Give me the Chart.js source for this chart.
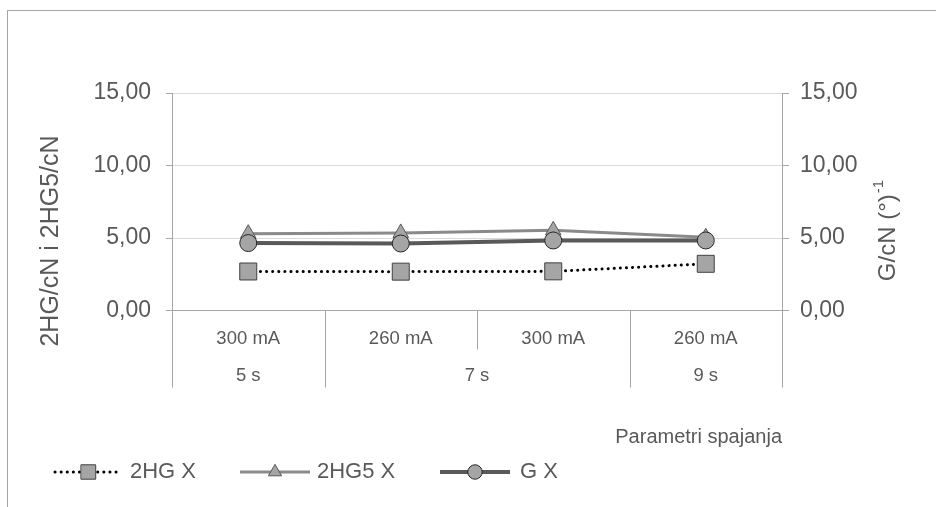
<!DOCTYPE html>
<html>
<head>
<meta charset="utf-8">
<script src="https://cdn.jsdelivr.net/npm/chart.js@4"></script>
<style>
  html, body { margin: 0; padding: 0; background: #fff; }
  #wrap { position: relative; width: 936px; height: 507px; overflow: hidden; }
  #frame { position: absolute; left: 7px; top: 10px; width: 940px; height: 510px;
           border-left: 1px solid #a6a6a6; border-top: 1px solid #a6a6a6; pointer-events: none; }
  canvas { position: absolute; left: 0; top: 0; }
</style>
</head>
<body>
<div id="wrap">
  <canvas id="chart" width="936" height="507"></canvas>
  <div id="frame"></div>
</div>
<script>
// categories (two levels)
const currents = ["300 mA", "260 mA", "300 mA", "260 mA"];
const times = ["5 s", "7 s", "7 s", "9 s"];

// series values
const hg2 = [2.69, 2.68, 2.70, 3.22];
const hg25 = [5.30, 5.35, 5.53, 5.05];
const gx = [4.65, 4.62, 4.83, 4.83];

// axis ticks
const yTicks = [0, 5, 10, 15];

const FONT = "'Liberation Sans', Arial, sans-serif";
const TXT = "#595959";
const AXIS = "#a6a6a6";
const GRID = "#d9d9d9";

const fmt = v => v.toFixed(2).replace(".", ",");

// legend layout: line start/end and text x
const legendItems = [
  { ds: 0, x0: 55, x1: 122, tx: 130 },
  { ds: 1, x0: 240, x1: 310, tx: 317 },
  { ds: 2, x0: 440, x1: 510, tx: 520 },
];

const extras = {
  id: "extras",
  afterDraw(chart) {
    const { ctx, chartArea: a, scales: { x } } = chart;
    ctx.save();

    // category separators
    const step = x.getPixelForValue(1) - x.getPixelForValue(0);
    ctx.strokeStyle = AXIS;
    ctx.lineWidth = 1;
    const vline = (px, len) => {
      const xx = Math.round(px) + 0.5;
      ctx.beginPath();
      ctx.moveTo(xx, a.bottom);
      ctx.lineTo(xx, a.bottom + len);
      ctx.stroke();
    };
    vline(a.left, 77);
    for (let i = 1; i < times.length; i++) {
      const px = x.getPixelForValue(i) - step / 2;
      vline(px, times[i] === times[i - 1] ? 39 : 77);
    }
    vline(a.right, 77);

    // second level labels (grouped)
    ctx.fillStyle = TXT;
    ctx.font = "18.5px " + FONT;
    ctx.textAlign = "center";
    ctx.textBaseline = "middle";
    let start = 0;
    for (let i = 1; i <= times.length; i++) {
      if (i === times.length || times[i] !== times[start]) {
        const cx = (x.getPixelForValue(start) + x.getPixelForValue(i - 1)) / 2;
        ctx.fillText(times[start], cx, a.bottom + 65);
        start = i;
      }
    }

    // axis titles
    ctx.font = "25px " + FONT;
    ctx.save();
    ctx.translate(51, 241);
    ctx.rotate(-Math.PI / 2);
    ctx.fillText("2HG/cN i 2HG5/cN", 0, 0);
    ctx.restore();

    ctx.save();
    ctx.translate(888, 231);
    ctx.rotate(-Math.PI / 2);
    ctx.font = "24px " + FONT;
    const main = "G/cN (°)";
    const w = ctx.measureText(main).width;
    ctx.font = "15px " + FONT;
    const sup = "-1";
    const ws = ctx.measureText(sup).width;
    const sx = -(w + ws) / 2;
    ctx.textAlign = "left";
    ctx.font = "24px " + FONT;
    ctx.fillText(main, sx, 0);
    ctx.font = "15px " + FONT;
    ctx.fillText(sup, sx + w + 1, -9);
    ctx.restore();

    // legend
    const ly = 472;
    legendItems.forEach(it => {
      const ds = chart.data.datasets[it.ds];
      ctx.save();
      ctx.strokeStyle = ds.borderColor;
      ctx.lineWidth = ds.borderWidth;
      ctx.lineCap = ds.borderCapStyle || "butt";
      ctx.setLineDash(ds.borderDash || []);
      ctx.beginPath();
      ctx.moveTo(it.x0, ly);
      ctx.lineTo(it.x1, ly);
      ctx.stroke();
      ctx.setLineDash([]);
      ctx.fillStyle = ds.pointBackgroundColor;
      ctx.strokeStyle = ds.pointBorderColor;
      ctx.lineWidth = ds.pointBorderWidth;
      Chart.helpers.drawPoint(ctx, {
        pointStyle: ds.pointStyle,
        radius: ds.pointRadius * 0.85,
        rotation: 0,
        borderWidth: ds.pointBorderWidth,
      }, (it.x0 + it.x1) / 2, ly);
      ctx.restore();
      ctx.fillStyle = TXT;
      ctx.font = "22px " + FONT;
      ctx.textAlign = "left";
      ctx.textBaseline = "middle";
      ctx.fillText(ds.label, it.tx, ly);
    });

    ctx.restore();
  },
};

const yCommon = {
  min: 0,
  max: 15,
  afterBuildTicks: s => { s.ticks = yTicks.map(v => ({ value: v })); },
  border: { color: AXIS, width: 1 },
  ticks: {
    color: TXT,
    font: { family: FONT, size: 23 },
    callback: v => fmt(v),
  },
};

new Chart(document.getElementById("chart"), {
  type: "line",
  data: {
    labels: currents,
    datasets: [
      {
        label: "2HG X",
        data: hg2,
        yAxisID: "y",
        borderColor: "#000000",
        borderWidth: 3,
        borderDash: [0.1, 6],
        borderCapStyle: "round",
        pointStyle: "rect",
        pointRadius: 12,
        pointBackgroundColor: "#a5a5a5",
        pointBorderColor: "#404040",
        pointBorderWidth: 1,
        order: 2,
      },
      {
        label: "2HG5 X",
        data: hg25,
        yAxisID: "y",
        borderColor: "#8a8a8a",
        borderWidth: 3,
        pointStyle: "triangle",
        pointRadius: 9,
        pointBackgroundColor: "#a5a5a5",
        pointBorderColor: "#595959",
        pointBorderWidth: 1,
        order: 1,
      },
      {
        label: "G X",
        data: gx,
        yAxisID: "y1",
        borderColor: "#595959",
        borderWidth: 4,
        pointStyle: "circle",
        pointRadius: 8.5,
        pointBackgroundColor: "#a5a5a5",
        pointBorderColor: "#262626",
        pointBorderWidth: 1,
        order: 0,
      },
    ],
  },
  options: {
    responsive: false,
    animation: false,
    layout: { padding: { top: 93, left: 0, right: 0, bottom: 0 } },
    plugins: {
      legend: { display: false },
      tooltip: { enabled: false },
    },
    scales: {
      x: {
        offset: true,
        grid: { display: false },
        border: { color: AXIS, width: 1 },
        ticks: {
          color: TXT,
          font: { family: FONT, size: 18.5 },
          padding: 9,
          maxRotation: 0,
        },
        title: {
          display: true,
          text: "Parametri spajanja",
          align: "end",
          color: TXT,
          font: { family: FONT, size: 20 },
          padding: { top: 0, bottom: 58 },
        },
        afterFit: s => { s.height = 196.5; },
      },
      y: {
        ...yCommon,
        position: "left",
        grid: {
          color: c => (c.tick && c.tick.value === 0 ? AXIS : GRID),
          tickColor: AXIS,
          tickLength: 6,
        },
        ticks: { ...yCommon.ticks, padding: 15 },
        afterFit: s => { s.width = 172; },
      },
      y1: {
        ...yCommon,
        position: "right",
        grid: { drawOnChartArea: false, tickColor: AXIS, tickLength: 7 },
        ticks: { ...yCommon.ticks, padding: 11 },
        afterFit: s => { s.width = 154; },
      },
    },
  },
  plugins: [extras],
});
</script>
</body>
</html>
